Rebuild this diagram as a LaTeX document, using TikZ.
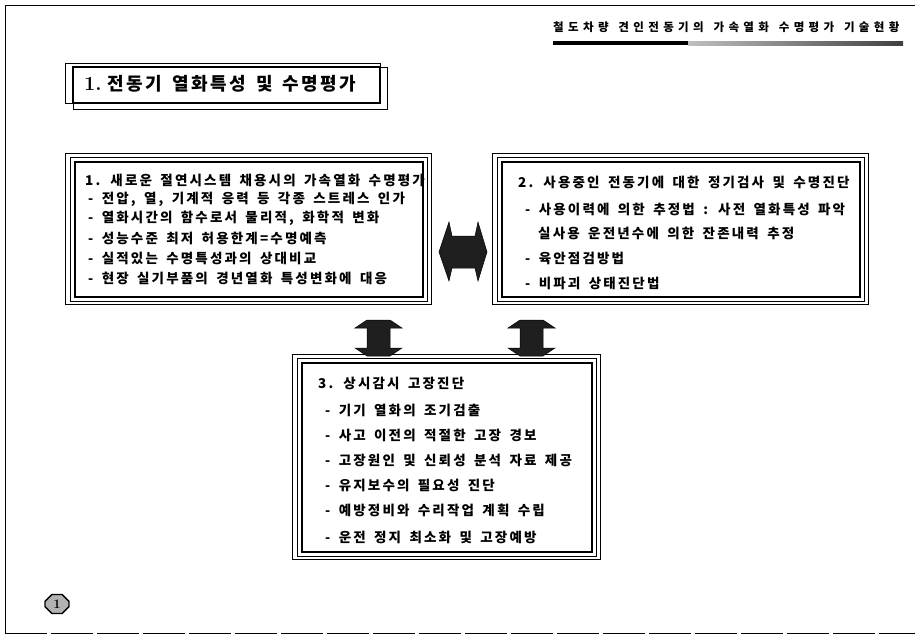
\documentclass[tikz,border=0pt]{standalone}
\usepackage{fontspec}
\usetikzlibrary{shapes.misc}
\newfontfamily\kr{Noto Sans CJK KR}[LetterSpace=16,WordSpace=1.6]
\newfontfamily\krhead{Noto Sans CJK KR}[LetterSpace=38,WordSpace=1.4]
\newfontfamily\krtitle{Noto Sans CJK KR}[LetterSpace=14,WordSpace=1.5]
\tikzset{
  txt/.style={anchor=west, inner sep=0pt, font=\kr\bfseries\fontsize{13.5}{15}\selectfont},
  hdr/.style={anchor=west, inner sep=0pt, font=\krhead\bfseries\fontsize{11.5}{13}\selectfont},
  ttl/.style={anchor=west, inner sep=0pt, font=\krtitle\bfseries\fontsize{18}{20}\selectfont},
  boxmain/.style={draw, line width=1.3pt, inner sep=0pt, fill=none},
  frameline/.style={draw, line width=0.7pt},
  blockarrow/.style={fill=black!88, draw=black, line width=0.5pt},
}
\newcommand\triframe[1]{%
  \draw[frameline] ([shift={(-4,4)}]#1.south west) rectangle ([shift={(4,-4)}]#1.north east);
  \draw[frameline] ([shift={(-9,7)}]#1.south west) rectangle ([shift={(8,-8)}]#1.north east);
}
\begin{document}
\begin{tikzpicture}[x=1pt,y=-1pt]
\useasboundingbox (0,0) rectangle (915,637);
% outer page frame
\draw[line width=1pt] (915,5) -- (5,5) -- (5,633);
\draw[line width=1pt, dash pattern=on 42pt off 4pt] (5,633) -- (915,633);

% header
\node[hdr] (hdr) at (553,27) {철도차량 견인전동기의 가속열화 수명평가 기술현황};
\fill[black] (553,41) rectangle (688,45);
\shade[left color=black!25, right color=black!75] (688,41) rectangle (903,45);

% title box
\node[boxmain, minimum width=307pt, minimum height=36pt] (tb) at (226.5,85) {};
\draw[frameline] (65,63) rectangle (380,103);
\draw[frameline] (73,67) rectangle (387,109);
\node[ttl] (tt) at (84,84) {{\rmfamily\bfseries\fontsize{20}{20}\selectfont 1.}\hspace{6pt}전동기 열화특성 및 수명평가};

% box 1
\node[boxmain, minimum width=348pt, minimum height=135pt] (b1) at (249,229.5) {};
\triframe{b1}
\node[txt] (b1t) at (85,180) {1. 새로운 절연시스템 채용시의 가속열화 수명평가};
\node[txt] (b1a) at (88,199) {- 전압, 열, 기계적 응력 등 각종 스트레스 인가};
\node[txt] (b1b) at (88,218) {- 열화시간의 함수로서 물리적, 화학적 변화};
\node[txt] (b1c) at (88,238) {- 성능수준 최저 허용한계=수명예측};
\node[txt] (b1d) at (88,258) {- 실적있는 수명특성과의 상대비교};
\node[txt] (b1e) at (88,278) {- 현장 실기부품의 경년열화 특성변화에 대응};

% box 2
\node[boxmain, minimum width=358pt, minimum height=135pt] (b2) at (681,229.5) {};
\triframe{b2}
\node[txt] (b2t) at (518,182) {2. 사용중인 전동기에 대한 정기검사 및 수명진단};
\node[txt] (b2a) at (525,209) {- 사용이력에 의한 추정법 : 사전 열화특성 파악};
\node[txt] (b2b) at (538,233) {실사용 운전년수에 의한 잔존내력 추정};
\node[txt] (b2c) at (525,258) {- 육안점검방법};
\node[txt] (b2d) at (525,283) {- 비파괴 상태진단법};

% box 3
\node[boxmain, minimum width=290pt, minimum height=189pt] (b3) at (447,457.5) {};
\triframe{b3}
\node[txt] (b3t) at (318,383) {3. 상시감시 고장진단};
\node[txt] (b3a) at (325,410) {- 기기 열화의 조기검출};
\node[txt] (b3b) at (325,435) {- 사고 이전의 적절한 고장 경보};
\node[txt] (b3c) at (325,460) {- 고장원인 및 신뢰성 분석 자료 제공};
\node[txt] (b3d) at (325,485) {- 유지보수의 필요성 진단};
\node[txt] (b3e) at (325,510) {- 예방정비와 수리작업 계획 수립};
\node[txt] (b3f) at (325,537) {- 운전 정지 최소화 및 고장예방};

% horizontal double arrow between box 1 and box 2
\coordinate (ha) at (463,252);
\fill[blockarrow] ([shift={(-24,0)}]ha) -- ([shift={(-14,-30)}]ha) -- ([shift={(-11,-16)}]ha)
  -- ([shift={(12,-16)}]ha) -- ([shift={(15,-30)}]ha) -- ([shift={(24,0)}]ha)
  -- ([shift={(15,29)}]ha) -- ([shift={(12,16)}]ha) -- ([shift={(-11,16)}]ha)
  -- ([shift={(-14,29)}]ha) -- cycle;

% vertical double arrows to box 3
\foreach \n/\cx in {va1/378.5, va2/531.5}{
  \coordinate (\n) at (\cx,338);
  \fill[blockarrow] ([shift={(-11.5,-18)}]\n) -- ([shift={(11.5,-18)}]\n) -- ([shift={(23.5,-10)}]\n)
    -- ([shift={(11.5,-10)}]\n) -- ([shift={(11.5,10)}]\n) -- ([shift={(23.5,10)}]\n)
    -- ([shift={(11.5,18)}]\n) -- ([shift={(-11.5,18)}]\n) -- ([shift={(-23.5,10)}]\n)
    -- ([shift={(-11.5,10)}]\n) -- ([shift={(-11.5,-10)}]\n) -- ([shift={(-23.5,-10)}]\n) -- cycle;
}

% page number
\node[chamfered rectangle, chamfered rectangle xsep=4pt, draw, line width=1.4pt, fill=black!30,
      minimum width=24pt, minimum height=19pt, inner sep=0pt, font=\rmfamily\bfseries\fontsize{13}{13}\selectfont]
      (pg) at (57,604) {1};
\end{tikzpicture}
\end{document}
